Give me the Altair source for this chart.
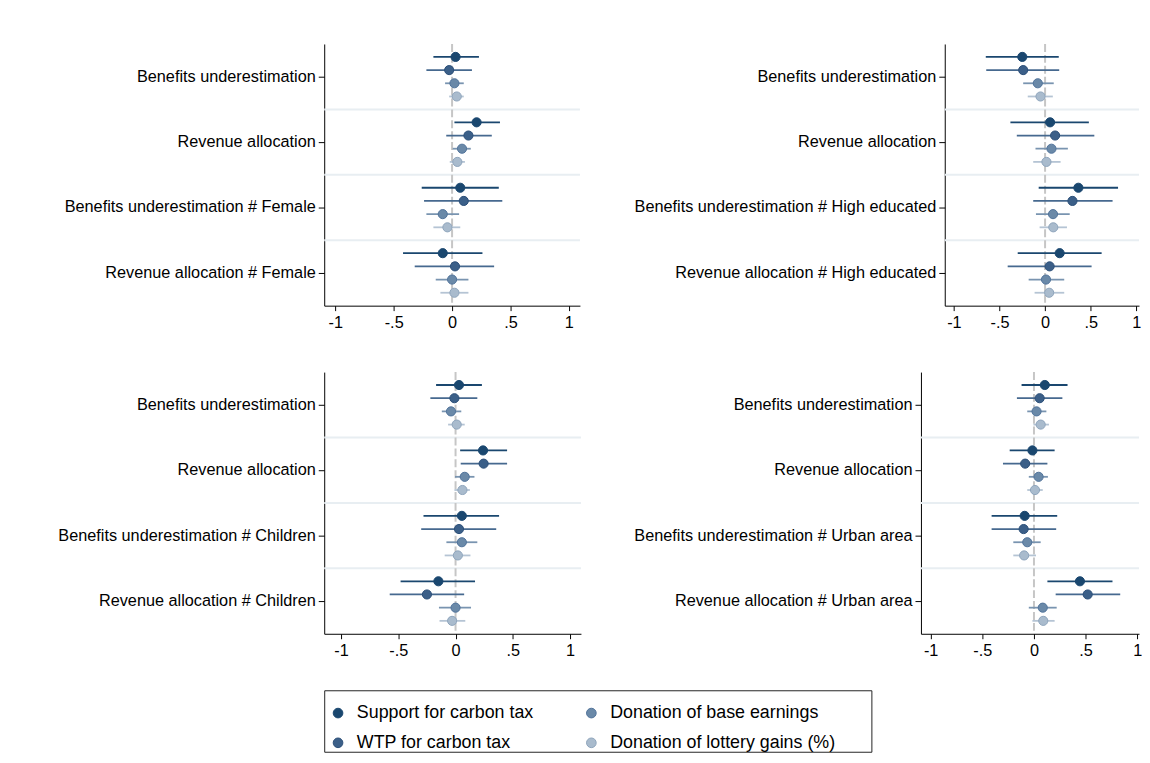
import altair as alt
import pandas as pd

SERIES = ["Support for carbon tax", "WTP for carbon tax",
          "Donation of base earnings", "Donation of lottery gains (%)"]
LEGEND_COL = [0, 0, 1, 1]
LEGEND_ROW = [0, 1, 0, 1]

FILL = ["#1a476f", "#3b5f88", "#6a89a8", "#a9bbcd"]
OUTLINE = ["#1a476f", "#2a4e77", "#50729a", "#8ea4bb"]
LINE = ["#1a476f", "#46698f", "#7994b0", "#b5c4d4"]

# ---------------- Panel 1: Female ----------------
female_terms = ["Benefits underestimation", "Revenue allocation",
                "Benefits underestimation # Female", "Revenue allocation # Female"]
female_est = {SERIES[0]: [0.03, 0.21, 0.07, -0.08],
              SERIES[1]: [-0.025, 0.14, 0.10, 0.025],
              SERIES[2]: [0.02, 0.085, -0.08, 0.0],
              SERIES[3]: [0.04, 0.045, -0.04, 0.02]}
female_lo = {SERIES[0]: [-0.16, 0.02, -0.26, -0.42],
             SERIES[1]: [-0.22, -0.05, -0.24, -0.32],
             SERIES[2]: [-0.06, 0.005, -0.22, -0.14],
             SERIES[3]: [-0.025, -0.02, -0.16, -0.10]}
female_hi = {SERIES[0]: [0.23, 0.41, 0.40, 0.26],
             SERIES[1]: [0.17, 0.34, 0.43, 0.36],
             SERIES[2]: [0.10, 0.16, 0.06, 0.14],
             SERIES[3]: [0.10, 0.11, 0.07, 0.14]}

# ---------------- Panel 2: High educated ----------------
edu_terms = ["Benefits underestimation", "Revenue allocation",
             "Benefits underestimation # High educated", "Revenue allocation # High educated"]
edu_est = {SERIES[0]: [-0.25, 0.055, 0.365, 0.16],
           SERIES[1]: [-0.24, 0.11, 0.30, 0.05],
           SERIES[2]: [-0.08, 0.07, 0.087, 0.01],
           SERIES[3]: [-0.05, 0.015, 0.09, 0.045]}
edu_lo = {SERIES[0]: [-0.65, -0.38, -0.07, -0.30],
          SERIES[1]: [-0.645, -0.31, -0.13, -0.41],
          SERIES[2]: [-0.24, -0.105, -0.10, -0.18],
          SERIES[3]: [-0.19, -0.13, -0.06, -0.115]}
edu_hi = {SERIES[0]: [0.15, 0.48, 0.80, 0.62],
          SERIES[1]: [0.155, 0.54, 0.74, 0.51],
          SERIES[2]: [0.095, 0.25, 0.27, 0.21],
          SERIES[3]: [0.085, 0.17, 0.24, 0.21]}

# ---------------- Panel 3: Children ----------------
child_terms = ["Benefits underestimation", "Revenue allocation",
               "Benefits underestimation # Children", "Revenue allocation # Children"]
child_est = {SERIES[0]: [0.03, 0.24, 0.055, -0.15],
             SERIES[1]: [-0.01, 0.245, 0.03, -0.25],
             SERIES[2]: [-0.04, 0.08, 0.055, 0.0],
             SERIES[3]: [0.01, 0.06, 0.02, -0.03]}
child_lo = {SERIES[0]: [-0.17, 0.04, -0.28, -0.48],
            SERIES[1]: [-0.22, 0.045, -0.30, -0.575],
            SERIES[2]: [-0.12, -0.005, -0.08, -0.145],
            SERIES[3]: [-0.065, -0.01, -0.095, -0.14]}
child_hi = {SERIES[0]: [0.23, 0.45, 0.38, 0.17],
            SERIES[1]: [0.19, 0.45, 0.355, 0.075],
            SERIES[2]: [0.05, 0.165, 0.19, 0.135],
            SERIES[3]: [0.08, 0.125, 0.13, 0.085]}

# ---------------- Panel 4: Urban area ----------------
urban_terms = ["Benefits underestimation", "Revenue allocation",
               "Benefits underestimation # Urban area", "Revenue allocation # Urban area"]
urban_est = {SERIES[0]: [0.105, -0.015, -0.09, 0.445],
             SERIES[1]: [0.055, -0.085, -0.10, 0.52],
             SERIES[2]: [0.025, 0.045, -0.065, 0.085],
             SERIES[3]: [0.065, 0.01, -0.095, 0.09]}
urban_lo = {SERIES[0]: [-0.12, -0.235, -0.41, 0.13],
            SERIES[1]: [-0.165, -0.30, -0.41, 0.21],
            SERIES[2]: [-0.065, -0.05, -0.20, -0.05],
            SERIES[3]: [-0.005, -0.065, -0.20, -0.015]}
urban_hi = {SERIES[0]: [0.325, 0.20, 0.225, 0.76],
            SERIES[1]: [0.275, 0.13, 0.215, 0.835],
            SERIES[2]: [0.12, 0.135, 0.065, 0.22],
            SERIES[3]: [0.145, 0.085, 0.02, 0.20]}

X_TICKS = [-1, -0.5, 0, 0.5, 1]
FONT = "Liberation Sans"

FILL_SCALE = alt.Scale(domain=SERIES, range=FILL)
OUTLINE_SCALE = alt.Scale(domain=SERIES, range=OUTLINE)


def panel(terms, est, lo, hi, width, extent, xdom):
    rows = []
    for s in SERIES:
        for i, t in enumerate(terms):
            rows.append({"term": t, "series": s, "est": est[s][i], "lo": lo[s][i], "hi": hi[s][i]})
    df = pd.DataFrame(rows)
    sep = pd.DataFrame({"term": terms[1:]})
    zero = pd.DataFrame({"z": [0]})

    yscale = alt.Scale(type="band", domain=terms, paddingInner=0, paddingOuter=0)
    xscale = alt.Scale(domain=xdom, nice=False, zero=False)
    yaxis = alt.Axis(title=None, tickSize=6, labelPadding=3, labelLimit=500,
                     minExtent=extent, maxExtent=extent, bandPosition=0.5)
    xaxis = alt.Axis(title=None, values=X_TICKS, tickSize=5, labelPadding=4,
                     minExtent=30, maxExtent=30, labelFlush=False,
                     labelExpr="(datum.value < 0 ? '-' : '') + replace(toString(abs(datum.value)), '0.', '.')")
    y = alt.Y("term:N", scale=yscale, axis=yaxis, sort=terms)
    yoff = alt.YOffset("series:N", sort=SERIES,
                       scale=alt.Scale(domain=SERIES, paddingInner=0, paddingOuter=0.48))

    sep_layer = alt.Chart(sep).mark_rule(color="#e8eef2", strokeWidth=2).encode(
        y=alt.Y("term:N", scale=yscale, axis=yaxis, sort=terms, bandPosition=0))
    zero_layer = alt.Chart(zero).mark_rule(color="#c6c6c6", strokeWidth=2, strokeDash=[8, 3]).encode(
        x=alt.X("z:Q", scale=xscale, axis=xaxis))
    ci = alt.Chart(df).mark_rule(strokeWidth=1.8).encode(
        x=alt.X("lo:Q", scale=xscale, axis=xaxis),
        x2="hi:Q",
        y=y, yOffset=yoff,
        color=alt.Color("series:N", scale=alt.Scale(domain=SERIES, range=LINE), legend=None))
    pts = alt.Chart(df).mark_circle(size=85, opacity=1, strokeWidth=1).encode(
        x=alt.X("est:Q", scale=xscale, axis=xaxis),
        y=y, yOffset=yoff,
        fill=alt.Fill("series:N", scale=FILL_SCALE, legend=None),
        stroke=alt.Stroke("series:N", scale=OUTLINE_SCALE, legend=None))
    return alt.layer(sep_layer, zero_layer, ci, pts).properties(width=width, height=264)


def legend_box():
    df = pd.DataFrame({"series": SERIES, "col": LEGEND_COL, "row": LEGEND_ROW})
    xs = alt.X("col:O", scale=alt.Scale(type="band", paddingInner=0, paddingOuter=0.08),
               bandPosition=0, axis=None)
    ys = alt.Y("row:O", scale=alt.Scale(type="band", paddingInner=0, paddingOuter=0.0333),
               axis=alt.Axis(title=None, labels=False, ticks=False, domain=False,
                             minExtent=310, maxExtent=310))
    dots = alt.Chart(df).mark_circle(size=95, opacity=1, strokeWidth=1, xOffset=-6.5, yOffset=7).encode(
        x=xs, y=ys,
        fill=alt.Fill("series:N", scale=FILL_SCALE, legend=None),
        stroke=alt.Stroke("series:N", scale=OUTLINE_SCALE, legend=None))
    labels = alt.Chart(df).mark_text(align="left", baseline="middle", font=FONT, fontSize=18,
                                     color="black", xOffset=12.5, yOffset=7).encode(
        x=xs, y=ys, text="series:N")
    return alt.layer(dots, labels).properties(
        width=552, height=62, view=alt.ViewBackground(stroke="#222222", strokeWidth=1))


p1 = panel(female_terms, female_est, female_lo, female_hi, 258, 313, [-1.095, 1.095])
p2 = panel(edu_terms, edu_est, edu_lo, edu_hi, 196, 367, [-1.10, 1.03])
p3 = panel(child_terms, child_est, child_lo, child_hi, 259, 319, [-1.147, 1.095])
p4 = panel(urban_terms, urban_est, urban_lo, urban_hi, 220, 342, [-1.094, 1.017])

row1 = alt.hconcat(p1, p2, spacing=0).resolve_scale(x="independent", y="independent")
row2 = alt.hconcat(p3, p4, spacing=0).resolve_scale(x="independent", y="independent")
bottom = alt.vconcat(row2, legend_box(), spacing=26).resolve_scale(x="independent", y="independent")

chart = (alt.vconcat(row1, bottom, spacing=36)
         .resolve_scale(x="independent", y="independent")
         .properties(padding={"left": 0, "top": 32, "right": 0, "bottom": 0})
         .configure_view(stroke=None)
         .configure_axis(domainColor="black", tickColor="black", labelColor="black",
                         labelFont=FONT, labelFontSize=16.4, grid=False,
                         domainWidth=1, tickWidth=1))

chart.save("out.html", embed_options={"renderer": "svg", "actions": False})
